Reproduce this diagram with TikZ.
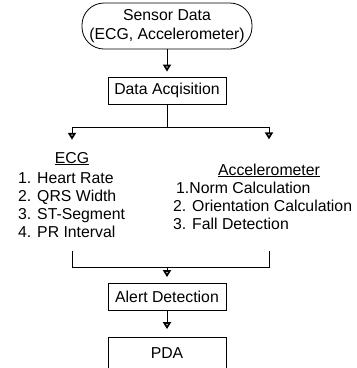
\documentclass[tikz,border=0pt]{standalone}
\usepackage{fontspec}
\setmainfont{Liberation Sans}
\usetikzlibrary{arrows.meta}
\newcommand\myfs{\fontsize{15.8}{18.5}\selectfont}
\begin{document}
\begin{tikzpicture}[x=1pt,y=-1pt,
  term/.style={draw=black, line width=0.8pt, rounded corners=22pt, minimum width=170pt, minimum height=46pt, align=center, inner sep=0pt, font=\myfs},
  box/.style={draw=black, line width=0.8pt, minimum width=118pt, minimum height=27pt, inner sep=0pt, font=\myfs},
  txt/.style={inner sep=0pt, font=\myfs},
  ln/.style={line width=0.8pt, draw=black},
  arr/.style={ln, -{Triangle[open, width=8pt, length=7pt, line width=1.9pt]}}
]
\useasboundingbox (0,0) rectangle (357,368);
\clip (0,0) rectangle (357,368);

\node[term] (sensor) at (167,26) {Sensor Data\\(ECG, Accelerometer)};
\node[box] (daq) at (167,90.5) {Data Acqisition};

\coordinate (split) at (167,127);
\coordinate (bl) at (72,127);
\coordinate (br) at (269,127);

\node[txt, anchor=base] (ecg) at (72,163) {\underline{ECG}};
\node[txt, anchor=base west] (e1) at (18,183) {1. Heart Rate};
\node[txt, anchor=base west] (e2) at (18,201) {2. QRS Width};
\node[txt, anchor=base west] (e3) at (18,219) {3. ST-Segment};
\node[txt, anchor=base west] (e4) at (18,237) {4. PR Interval};

\node[txt, anchor=base] (acc) at (269,175) {\underline{Accelerometer}};
\node[txt, anchor=base west] (a1) at (176,193) {1.Norm Calculation};
\node[txt, anchor=base west] (a2) at (173,211) {2. Orientation Calculation};
\node[txt, anchor=base west] (a3) at (173,229) {3. Fall Detection};

\coordinate (ecgb) at (72,251);
\coordinate (accb) at (269,251);
\coordinate (jl) at (72,267);
\coordinate (jr) at (269,267);
\coordinate (join) at (167,267);

\node[box] (alert) at (167,297) {Alert Detection};
\node[box, minimum height=44pt] (pda) at (167,359.5) {};
\node[txt, anchor=base] (pdat) at (167,358) {PDA};

\draw[arr, shorten >=5pt] (sensor) -- (daq);
\draw[ln] (daq) -- (split);
\draw[ln] (bl) -- (br);
\draw[arr, shorten >=12pt] (bl) -- (ecg.north);
\draw[arr, shorten >=24pt] (br) -- (acc.north);
\draw[ln] (ecgb) -- (jl) -- (jr) -- (accb);
\draw[arr, shorten >=6pt] (join) -- (alert);
\draw[arr, shorten >=8pt] (alert) -- (pda);
\end{tikzpicture}
\end{document}
